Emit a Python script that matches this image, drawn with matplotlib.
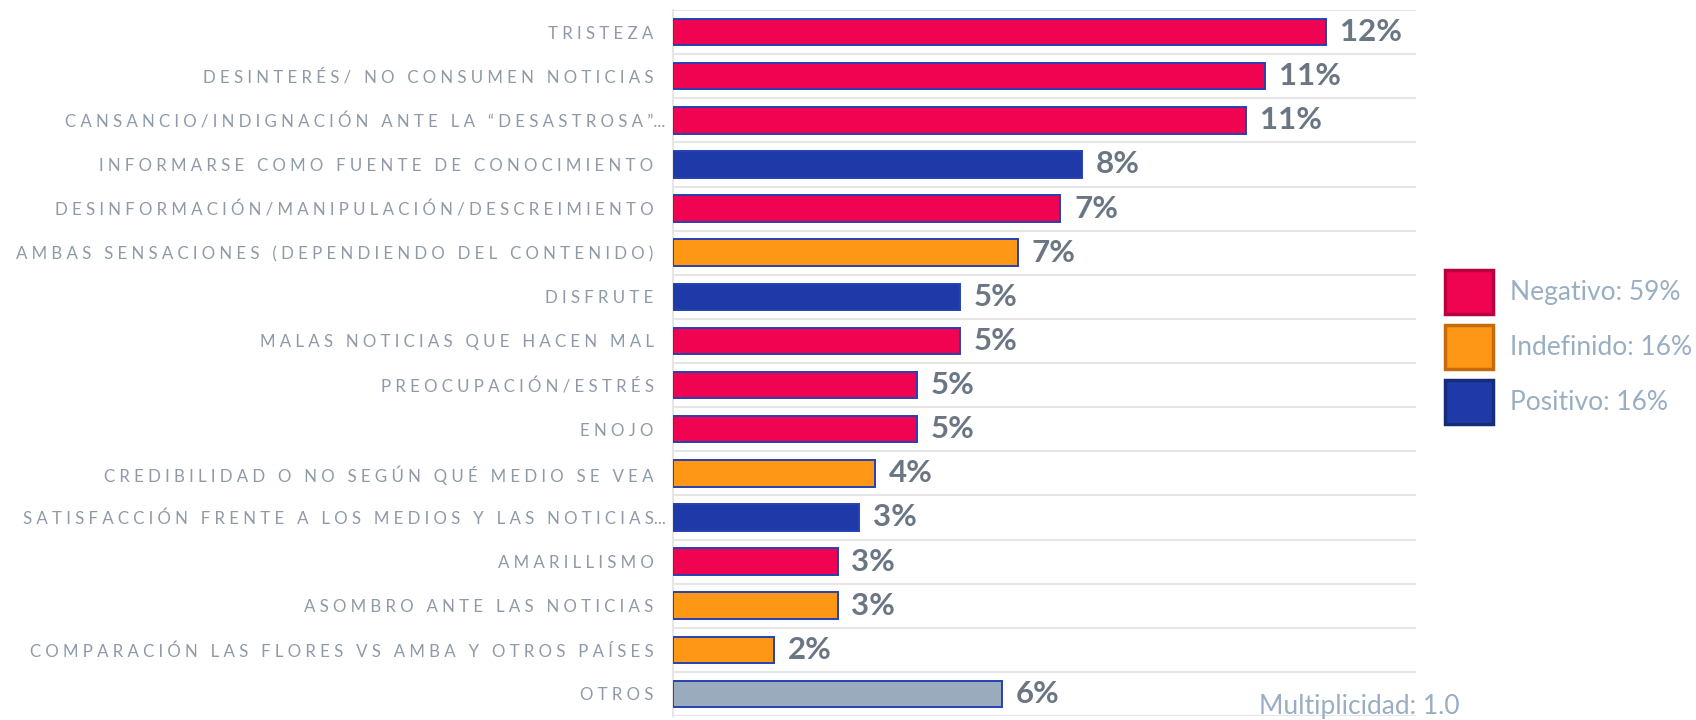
import matplotlib
matplotlib.use("Agg")
import matplotlib.pyplot as plt
from matplotlib.patches import Patch
from matplotlib.transforms import ScaledTranslation
import numpy as np

categories = [
    "TRISTEZA",
    "DESINTERÉS/ NO CONSUMEN NOTICIAS",
    "CANSANCIO/INDIGNACIÓN ANTE LA “DESASTROSA”...",
    "INFORMARSE COMO FUENTE DE CONOCIMIENTO",
    "DESINFORMACIÓN/MANIPULACIÓN/DESCREIMIENTO",
    "AMBAS SENSACIONES (DEPENDIENDO DEL CONTENIDO)",
    "DISFRUTE",
    "MALAS NOTICIAS QUE HACEN MAL",
    "PREOCUPACIÓN/ESTRÉS",
    "ENOJO",
    "CREDIBILIDAD O NO SEGÚN QUÉ MEDIO SE VEA",
    "SATISFACCIÓN FRENTE A LOS MEDIOS Y LAS NOTICIAS...",
    "AMARILLISMO",
    "ASOMBRO ANTE LAS NOTICIAS",
    "COMPARACIÓN LAS FLORES VS AMBA Y OTROS PAÍSES",
    "OTROS",
]
values = [12.3, 11.15, 10.8, 7.7, 7.3, 6.5, 5.4, 5.4, 4.6, 4.6, 3.8, 3.5, 3.1, 3.1, 1.9, 6.2]
value_labels = ["12%", "11%", "11%", "8%", "7%", "7%", "5%", "5%", "5%", "5%",
                "4%", "3%", "3%", "3%", "2%", "6%"]
groups = ["neg", "neg", "neg", "pos", "neg", "ind", "pos", "neg", "neg", "neg",
          "ind", "pos", "neg", "ind", "ind", "otros"]
legend_labels = ["Negativo: 59%", "Indefinido: 16%", "Positivo: 16%"]
footer = "Multiplicidad: 1.0"

fill = {"neg": "#f00452", "ind": "#ff9716", "pos": "#1e3aa9", "otros": "#99abbd"}
legend_edge = {"neg": "#b8003f", "ind": "#c46b0c", "pos": "#142c7a"}

FONT = ["Lato", "DejaVu Sans"]
plt.rcParams["font.family"] = FONT


def spaced(s):
    # letter-spaced rendering; a trailing ellipsis stays compact
    tail = ""
    if s.endswith("..."):
        s, tail = s[:-3], "..."
    return "\u2009\u2009".join(list(s)) + tail


fig = plt.figure(figsize=(16.96, 7.2), dpi=100)
ax = fig.add_axes([673 / 1696, 1 - 716 / 720, (1416 - 673) / 1696, (716 - 10) / 720])

y = np.arange(len(categories))
ax.barh(y, values, height=0.6, color=[fill[g] for g in groups],
        edgecolor="#2541b2", linewidth=1.4, zorder=3)

ax.set_xlim(0, 14.0)
ax.set_ylim(len(categories) - 0.5, -0.5)

ax.set_yticks(y)
ax.set_yticklabels([spaced(c) for c in categories], fontsize=12.2, color="#8e9aa8")
ax.tick_params(axis="y", length=0, pad=14)
shift = ScaledTranslation(12 / 100, 0, fig.dpi_scale_trans)
for lbl, c in zip(ax.get_yticklabels(), categories):
    if c.endswith("..."):
        lbl.set_transform(lbl.get_transform() + shift)
ax.set_xticks([])
ax.set_yticks(np.arange(len(categories) + 1) - 0.5, minor=True)
ax.tick_params(axis="y", which="minor", length=0)
ax.grid(axis="y", which="minor", color="#e6e6e6", linewidth=1.5, zorder=0)
ax.grid(axis="y", which="major", visible=False)

for s in ["top", "right", "bottom"]:
    ax.spines[s].set_visible(False)
ax.spines["left"].set_color("#e6e6e6")
ax.spines["left"].set_linewidth(1.5)

for yi, v, lab in zip(y, values, value_labels):
    ax.annotate(lab, (v, yi), xytext=(10, 0), textcoords="offset points",
                ha="left", va="center", fontsize=22.5, fontweight="bold", color="#6a7683")

handles = [Patch(facecolor=fill[k], edgecolor=legend_edge[k], linewidth=2.5,
                 joinstyle="round")
           for k in ["neg", "ind", "pos"]]
leg = fig.legend(handles, legend_labels, loc="upper left",
                 bbox_to_anchor=(1445 / 1696, 1 - 270 / 720),
                 frameon=False, fontsize=19, handlelength=1.8, handleheight=2.19,
                 handletextpad=0.65, labelspacing=0.42, borderpad=0, borderaxespad=0)
for t in leg.get_texts():
    t.set_color("#9aaec3")

fig.text(1259 / 1696, 1 - 719 / 720, footer, fontsize=19, color="#9aaec3",
         ha="left", va="bottom")

fig.savefig("out.png", dpi=100)
